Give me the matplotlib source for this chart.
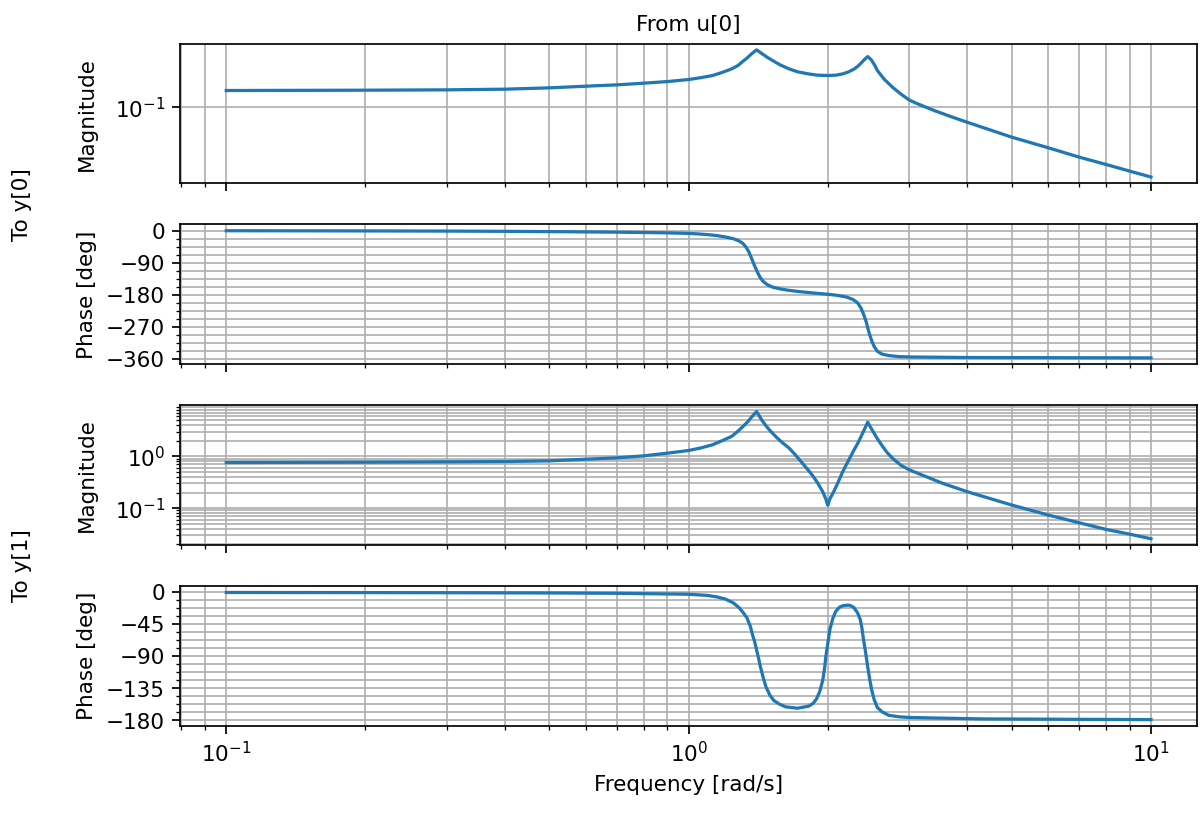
import matplotlib
matplotlib.use("Agg")
import matplotlib.pyplot as plt
from matplotlib.ticker import MultipleLocator, AutoMinorLocator, NullLocator

# y[0] magnitude
w_mag0 = [0.1, 0.2, 0.3, 0.4, 0.5, 0.6, 0.7, 0.8, 0.9, 1.0, 1.06, 1.126, 1.18,
          1.239, 1.28, 1.311, 1.34, 1.363, 1.385, 1.403, 1.42, 1.443, 1.48,
          1.528, 1.58, 1.65, 1.72, 1.815, 1.9, 2.0, 2.08, 2.155, 2.22, 2.283,
          2.33, 2.37, 2.41, 2.44, 2.47, 2.49, 2.53, 2.56, 2.65, 2.76, 2.88, 3.0,
          3.1, 3.22, 3.4, 3.7, 4.0, 5.0, 6.0, 7.0, 8.0, 9.0, 10.0]
mag0 = [0.1468, 0.1479, 0.1491, 0.1514, 0.1561, 0.1622, 0.1673, 0.1738, 0.1805,
        0.1891, 0.197, 0.2073, 0.222, 0.2416, 0.262, 0.2884, 0.312, 0.3363,
        0.358, 0.3745, 0.360, 0.3415, 0.315, 0.2884, 0.264, 0.2416, 0.226,
        0.2154, 0.209, 0.2073, 0.209, 0.2154, 0.226, 0.2416, 0.260, 0.2818,
        0.305, 0.3211, 0.305, 0.2929, 0.260, 0.2326, 0.190, 0.1585, 0.135,
        0.118, 0.110, 0.1023, 0.0925, 0.0802, 0.0708, 0.0501, 0.0392, 0.0316,
        0.0267, 0.0229, 0.0200]

# y[0] phase
w_ph0 = [0.1, 0.2, 0.3, 0.4, 0.5, 0.6, 0.7, 0.8, 0.9, 1.0, 1.05, 1.1, 1.15, 1.2,
         1.25, 1.28, 1.31, 1.33, 1.35, 1.37, 1.39, 1.41, 1.43, 1.45, 1.48, 1.52,
         1.58, 1.65, 1.75, 1.85, 2.0, 2.1, 2.2, 2.27, 2.32, 2.36, 2.39, 2.42,
         2.44, 2.46, 2.49, 2.52, 2.56, 2.62, 2.71, 2.85, 3.0, 4.0, 6.0, 10.0]
ph0 = [-0.5, -1.0, -1.5, -2.2, -3.0, -3.8, -4.5, -5.5, -6.5, -8.0, -9.5, -11.5,
       -14, -18, -23, -28, -36, -46, -60, -80, -100, -118, -133, -143, -152,
       -159, -164, -168, -172, -175, -179, -182, -187, -194, -203, -218, -235,
       -255, -273, -290, -310, -326, -339, -347, -351, -354, -355, -356.5,
       -357, -357.6]

# y[1] magnitude
w_mag1 = [0.1, 0.2, 0.3, 0.4, 0.5, 0.6, 0.7, 0.8, 0.9, 1.0, 1.06, 1.126, 1.18,
          1.239, 1.28, 1.311, 1.34, 1.363, 1.385, 1.403, 1.42, 1.443, 1.47, 1.5,
          1.53, 1.56, 1.6, 1.65, 1.7, 1.75, 1.8, 1.85, 1.9, 1.95, 1.98, 2.0,
          2.02, 2.06, 2.1, 2.155, 2.22, 2.28, 2.33, 2.37, 2.41, 2.44, 2.47, 2.51,
          2.56, 2.61, 2.68, 2.76, 2.88, 3.0, 3.54, 4.0, 5.0, 6.0, 7.0, 8.0, 9.0,
          10.0]
mag1 = [0.761, 0.772, 0.784, 0.795, 0.819, 0.882, 0.937, 1.024, 1.154, 1.300,
        1.45, 1.675, 2.0, 2.434, 3.1, 3.80, 4.6, 5.52, 6.5, 7.35, 6.2, 4.9,
        3.9, 3.15, 2.62, 2.2, 1.8, 1.443, 1.08, 0.795, 0.59, 0.437, 0.31,
        0.208, 0.15, 0.113, 0.15, 0.208, 0.30, 0.509, 0.85, 1.340, 1.9, 2.62,
        3.6, 4.6, 3.75, 2.95, 2.2, 1.7, 1.22, 0.92, 0.67, 0.55, 0.302, 0.208,
        0.1145, 0.0732, 0.0519, 0.0386, 0.0313, 0.0255]

# y[1] phase
w_ph1 = [0.1, 0.2, 0.3, 0.5, 0.7, 1.0, 1.1, 1.15, 1.2, 1.25, 1.287, 1.31, 1.337,
         1.36, 1.375, 1.39, 1.403, 1.417, 1.43, 1.45, 1.47, 1.5, 1.528, 1.57,
         1.62, 1.72, 1.82, 1.86, 1.89, 1.92, 1.95, 1.97, 1.98, 2.0, 2.02, 2.05,
         2.08, 2.12, 2.155, 2.22, 2.26, 2.28, 2.32, 2.35, 2.37, 2.39, 2.415,
         2.44, 2.465, 2.49, 2.52, 2.56, 2.62, 2.71, 2.85, 3.0, 4.3, 10.0]
ph1 = [-0.3, -0.5, -0.7, -1.0, -1.5, -2.8, -4.5, -6.5, -9.5, -15, -22, -28, -36,
       -48, -60, -70, -81, -93, -105, -120, -133, -145, -152, -157, -161, -163,
       -160, -156, -150, -140, -124, -105, -91, -72, -53, -37, -27, -21, -19,
       -18, -20, -22, -29, -38, -50, -67, -85, -105, -123, -138, -151, -162,
       -168, -173, -175, -176, -178, -179]

outputs = ["y[0]", "y[1]"]
input_name = "u[0]"
line_color = "#1f77b4"

fig, axes = plt.subplots(4, 1, sharex=True, figsize=(1201.2 / 155, 814.2 / 155), dpi=155)
fig.subplots_adjust(left=180 / 1201, right=1197 / 1201, top=1 - 43.7 / 814,
                    bottom=1 - 726 / 814, hspace=0.293)

series = [(w_mag0, mag0), (w_ph0, ph0), (w_mag1, mag1), (w_ph1, ph1)]
for i, (ax, (w, vals)) in enumerate(zip(axes, series)):
    if i % 2 == 0:
        ax.loglog(w, vals, color=line_color)
        ax.set_ylabel("Magnitude")
    else:
        ax.semilogx(w, vals, color=line_color)
        ax.set_ylabel("Phase [deg]")
    ax.grid(True, which="both")

# only one decade inside the top magnitude axis: no minor ticks there
axes[0].yaxis.set_minor_locator(NullLocator())
axes[1].yaxis.set_major_locator(MultipleLocator(90))
axes[1].yaxis.set_minor_locator(AutoMinorLocator())
axes[3].yaxis.set_major_locator(MultipleLocator(45))
axes[3].yaxis.set_minor_locator(AutoMinorLocator())

axes[0].set_title("From %s" % input_name, fontsize=10)
axes[3].set_xlabel("Frequency [rad/s]")

# row labels for each output, centred on its magnitude/phase pair
for k, name in enumerate(outputs):
    top = axes[2 * k].get_position().y1
    bot = axes[2 * k + 1].get_position().y0
    fig.text(22 / 1201, (top + bot) / 2, "To %s" % name, rotation=90,
             ha="center", va="center")

fig.align_ylabels(axes)
fig.savefig("out.png", dpi=155)
